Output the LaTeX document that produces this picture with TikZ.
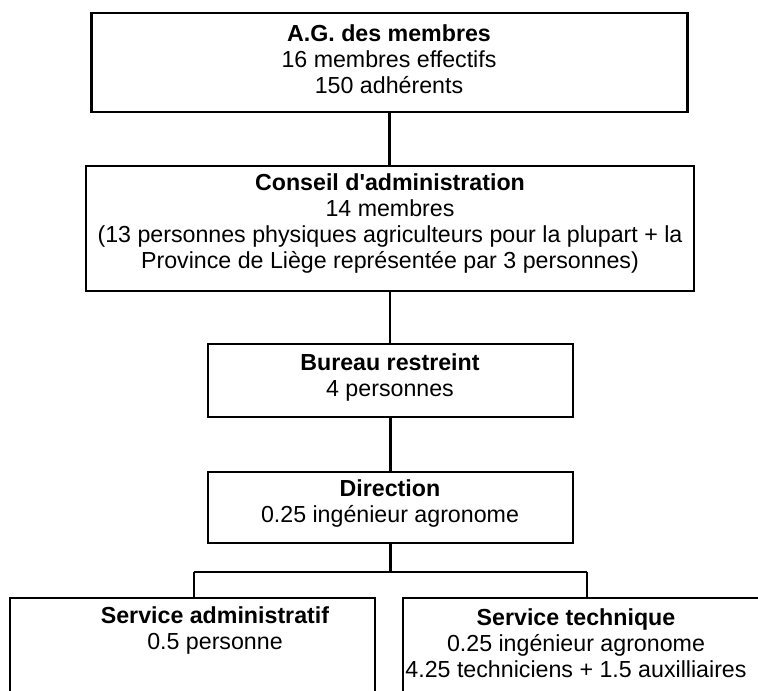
\documentclass[tikz,border=0pt]{standalone}
\usepackage{fontspec}
\setmainfont{Liberation Sans}
\usepackage{tikz}

\tikzset{
  orgbox/.style={draw,line width=1.8pt,inner sep=0pt},
  orgtext/.style={align=center,inner sep=0pt},
  link/.style={line width=1.6pt}
}

\begin{document}
\begin{tikzpicture}[x=0.75pt,y=-0.75pt,font=\fontsize{17.4pt}{19.5pt}\selectfont]
        \def\ybar{572}

        \clip (0,0) rectangle (758,691);

        \node[orgbox,minimum width=447pt,minimum height=74.25pt] (ag) at (389.5,62.5) {};
        \node[orgbox,minimum width=456pt,minimum height=93.75pt] (ca) at (390,228.5) {};
        \node[orgbox,minimum width=273.75pt,minimum height=54.75pt] (br) at (390.5,380.5) {};
        \node[orgbox,minimum width=273.75pt,minimum height=53.25pt] (dir) at (390.5,507.5) {};
        \node[orgbox,minimum width=273.75pt,minimum height=91.5pt] (sa) at (192.5,659) {};
        \node[orgbox,minimum width=282.75pt,minimum height=91.5pt] (st) at (591.5,659) {};

        \node[orgtext] (agtxt) at (389,59)
            {\textbf{A.G. des membres}\\16 membres effectifs\\150 adhérents};
        \node[orgtext] (catxt) at (390,224)
            {\textbf{Conseil d\textquotesingle administration}\\14 membres\\(13 personnes physiques agriculteurs pour la plupart + la\\Province de Liège représentée par 3 personnes)};
        \node[orgtext] (brtxt) at (390,377.5)
            {\textbf{Bureau restreint}\\4 personnes};
        \node[orgtext] (dirtxt) at (390,503.5)
            {\textbf{Direction}\\0.25 ingénieur agronome};
        \node[orgtext] (satxt) at (215,630.5)
            {\textbf{Service administratif}\\0.5 personne};
        \node[orgtext] (sttxt) at (576,643)
            {\textbf{Service technique}\\0.25 ingénieur agronome\\4.25 techniciens + 1.5 auxilliaires};

        \coordinate (lbr) at (194,\ybar);
        \coordinate (rbr) at (587,\ybar);

        \draw[link] (ag.south) -- (ag.south |- ca.north);
        \draw[link] (ca.south) -- (ca.south |- br.north);
        \draw[link] (br.south) -- (dir.north);
        \draw[link] (dir.south) -- (dir.south |- lbr);
        \draw[link] (lbr) -- (rbr);
        \draw[link] (lbr) -- (lbr |- sa.north);
        \draw[link] (rbr) -- (rbr |- st.north);
    \end{tikzpicture}
\end{document}
